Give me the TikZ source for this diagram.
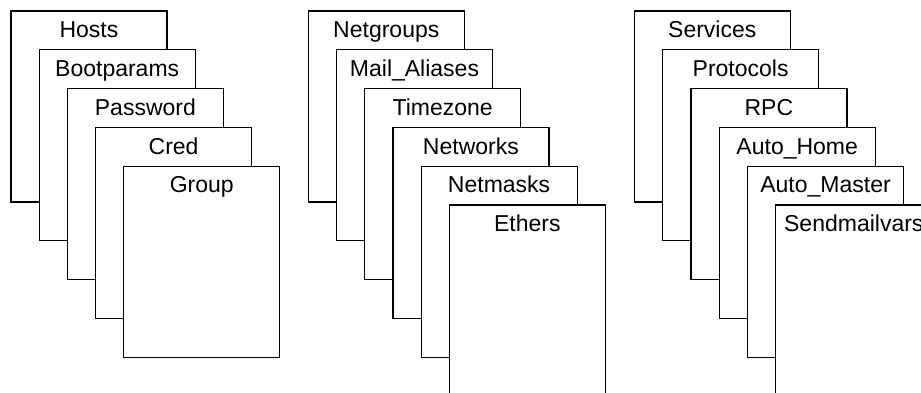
\documentclass[tikz,border=0pt]{standalone}
\usepackage{fontspec}
\setmainfont{Liberation Sans}
\tikzset{
  sheet/.style={draw=black, fill=white, line width=1.2pt, minimum width=156pt, minimum height=191pt, anchor=north west, inner sep=0pt, outer sep=0pt},
  lbl/.style={anchor=base, font=\fontsize{23}{27}\selectfont, inner sep=0pt}
}
\begin{document}
\begin{tikzpicture}[x=1pt,y=-1pt]
\useasboundingbox (0,0) rectangle (921,392);
\clip (0,0) rectangle (921,392);
\foreach \i/\t in {0/Hosts,1/Bootparams,2/Password,3/Cred,4/Group}{
  \node[sheet] (a\i) at ({11+28.2*\i},{11+38.8*\i}) {};
  \node[lbl] (ta\i) at ([yshift=-26.7pt]a\i.north) {\t};
}
\foreach \i/\t in {0/Netgroups,1/Mail\_Aliases,2/Timezone,3/Networks,4/Netmasks,5/Ethers}{
  \node[sheet] (b\i) at ({308.3+28.2*\i},{11+38.8*\i}) {};
  \node[lbl] (tb\i) at ([yshift=-26.7pt]b\i.north) {\t};
}
\foreach \i/\t in {0/Services,1/Protocols,2/RPC,3/Auto\_Home,4/Auto\_Master,5/Sendmailvars}{
  \node[sheet] (c\i) at ({634.3+28.3*\i},{11+38.8*\i}) {};
  \node[lbl] (tc\i) at ([yshift=-26.7pt]c\i.north) {\t};
}
\end{tikzpicture}
\end{document}
